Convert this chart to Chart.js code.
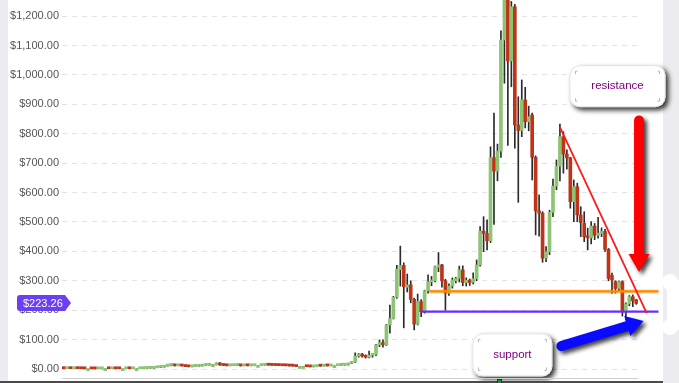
<!DOCTYPE html>
<html>
<head>
<meta charset="utf-8">
<script src="https://cdn.jsdelivr.net/npm/chart.js@4.4.1/dist/chart.umd.min.js"></script>
<style>
  html, body { margin: 0; padding: 0; background: #ececf0; }
  #wrap { width: 679px; height: 383px; }
</style>
</head>
<body>
<div id="wrap"><canvas id="myChart" width="679" height="383"></canvas></div>
<script>
// weekly candles, Aug 2015 -> Sep 2018
const opens = [
  2.8, 1.2, 1.35, 1.2, 1.3, 1.25, 0.9, 0.7, 0.7, 0.6,
  0.55, 0.6, 1.0, 1.0, 0.9, 0.95, 0.9, 0.85, 0.85, 0.9,
  0.85, 0.95, 0.95, 1.2, 2.0, 2.4, 2.5, 4.4, 5.6, 6.3,
  10.0, 12.0, 12.5, 11.0, 11.5, 10.4, 8.5, 7.5, 9.2, 9.4,
  10.0, 12.5, 12.8, 14.0, 14.0, 18.0, 14.0, 12.0, 11.0, 11.4,
  12.5, 12.8, 10.8, 11.5, 11.0, 11.2, 12.0, 12.0, 12.7, 13.3,
  13.0, 12.5, 12.0, 11.9, 11.1, 11.0, 10.2, 9.8, 8.3, 8.3,
  8.3, 7.9, 7.2, 8.1, 10.0, 9.8, 10.6, 10.5, 11.4, 11.4,
  12.8, 13.0, 13.5, 19, 24, 44, 50, 45, 40, 47,
  49, 82, 90, 82, 150, 172, 244, 338, 352, 278,
  286, 237, 153, 229, 195, 266, 296, 300, 346, 354,
  300, 258, 282, 300, 308, 337, 294, 302, 295, 307,
  354, 469, 461, 436, 719, 673, 741, 1119, 1270, 1048,
  1232, 830, 811, 915, 841, 864, 720, 538, 530, 377,
  399, 533, 622, 690, 790, 731, 718, 569, 620, 524,
  495, 452, 446, 486, 455, 461, 468, 407, 318, 297,
  274, 297, 198, 221, 246, 235
];
const highs = [
  3.0, 1.5, 1.4, 1.4, 1.35, 1.3, 0.95, 0.8, 0.75, 0.65,
  0.65, 1.2, 1.15, 1.05, 1.0, 1.0, 0.95, 0.9, 0.95, 0.92,
  1.0, 1.0, 1.3, 2.2, 2.6, 2.8, 4.7, 6.0, 6.8, 11.0,
  13.0, 15.0, 12.8, 12.0, 11.8, 10.6, 8.7, 9.5, 9.8, 10.5,
  13.0, 14.0, 14.5, 15.0, 21.0, 21.5, 14.5, 12.5, 11.8, 13.5,
  14.8, 13.0, 12.0, 11.8, 11.6, 12.3, 12.3, 13.0, 14.0, 13.6,
  13.2, 12.7, 12.2, 12.0, 11.3, 11.2, 10.4, 10.0, 8.8, 8.6,
  8.4, 8.0, 8.3, 10.3, 11.2, 10.9, 10.8, 11.6, 11.6, 13.0,
  13.5, 14, 20, 25, 55, 53, 53, 48, 61, 52,
  84, 99, 99, 152, 217, 247, 353, 418, 361, 323,
  300, 241, 255, 236, 268, 320, 315, 350, 396, 356,
  305, 290, 310, 312, 350, 351, 310, 306, 327, 371,
  484, 518, 507, 756, 870, 765, 1150, 1420, 1350, 1250,
  1240, 926, 983, 958, 894, 870, 725, 592, 535, 416,
  540, 646, 711, 833, 807, 745, 720, 643, 632, 552,
  535, 479, 501, 495, 516, 480, 475, 410, 326, 300,
  300, 300, 225, 250, 252, 237
];
const lows = [
  0.7, 1.1, 1.1, 1.15, 1.1, 0.85, 0.6, 0.65, 0.55, 0.45,
  0.5, 0.6, 0.9, 0.85, 0.85, 0.85, 0.8, 0.8, 0.82, 0.8,
  0.84, 0.9, 0.93, 1.15, 1.9, 2.2, 2.4, 4.2, 4.8, 6.2,
  9.5, 10.5, 10.0, 10.5, 10.0, 8.0, 7.2, 7.3, 8.9, 9.2,
  9.8, 12.0, 12.5, 13.5, 13.8, 12.5, 11.5, 10.5, 10.8, 11.2,
  12.0, 10.0, 10.5, 10.4, 10.8, 11.0, 11.7, 11.8, 12.5, 12.8,
  12.3, 11.8, 11.6, 10.9, 10.5, 9.9, 9.5, 8.0, 8.0, 7.8,
  7.6, 6.9, 7.0, 7.9, 9.5, 9.6, 10.2, 10.3, 10.9, 11.2,
  12.2, 12.5, 13.2, 18, 22, 40, 40, 37, 38, 40,
  45, 76, 74, 80, 122, 170, 240, 282, 140, 262,
  225, 133, 150, 178, 190, 258, 283, 296, 331, 278,
  200, 250, 275, 293, 296, 283, 282, 284, 289, 300,
  350, 399, 405, 430, 492, 640, 720, 972, 760, 960,
  751, 567, 790, 820, 810, 643, 456, 452, 363, 365,
  389, 518, 610, 640, 666, 680, 547, 501, 501, 450,
  433, 405, 425, 440, 445, 450, 400, 300, 257, 258,
  265, 180, 167, 215, 212, 220
];
const closes = [
  1.2, 1.35, 1.2, 1.3, 1.25, 0.9, 0.7, 0.7, 0.6, 0.55,
  0.6, 1.0, 1.0, 0.9, 0.95, 0.9, 0.85, 0.85, 0.9, 0.85,
  0.95, 0.95, 1.2, 2.0, 2.4, 2.5, 4.4, 5.6, 6.3, 10.0,
  12.0, 12.5, 11.0, 11.5, 10.4, 8.5, 7.5, 9.2, 9.4, 10.0,
  12.5, 12.8, 14.0, 14.0, 18.0, 14.0, 12.0, 11.0, 11.4, 12.5,
  12.8, 10.8, 11.5, 11.0, 11.2, 12.0, 12.0, 12.7, 13.3, 13.0,
  12.5, 12.0, 11.9, 11.1, 11.0, 10.2, 9.8, 8.3, 8.3, 8.3,
  7.9, 7.2, 8.1, 10.0, 9.8, 10.6, 10.5, 11.4, 11.4, 12.8,
  13.0, 13.5, 19, 24, 44, 50, 44, 40, 47, 48,
  82, 90, 82, 150, 172, 244, 340, 352, 280, 286,
  237, 153, 229, 195, 266, 297, 301, 348, 354, 300,
  258, 282, 303, 308, 337, 294, 302, 294, 307, 354,
  469, 461, 436, 719, 673, 741, 1119, 1290, 1048, 1232,
  830, 811, 915, 841, 858, 720, 538, 530, 377, 399,
  533, 622, 690, 790, 731, 718, 569, 620, 524, 498,
  450, 446, 486, 455, 461, 468, 407, 308, 303, 274,
  297, 195, 221, 246, 232, 223.26
];

// drawn levels (price) and trend line ends ([week index, price])
const supportLevel = 195;
const resistanceLevel = 264;
const trendStart = [143, 823];
const trendEnd = [168, 190];
const levelFrom = { support: 103, resistance: 105.4 };
const levelTo = 171.4;

// one label per week
const weeks = [];
for (let i = 0; i < closes.length; i++) {
  const d = new Date(Date.UTC(2015, 7, 2 + i * 7));
  weeks.push(d.toISOString().slice(0, 10));
}

const up = "#8cc474";
const down = "#bf3319";
const fontFamily = "'Liberation Sans', Arial, sans-serif";

function roundBox(c, x, y, w, h, r) {
  c.beginPath();
  c.moveTo(x + r, y);
  c.lineTo(x + w - r, y);
  c.arcTo(x + w, y, x + w, y + r, r);
  c.lineTo(x + w, y + h - r);
  c.arcTo(x + w, y + h, x + w - r, y + h, r);
  c.lineTo(x + r, y + h);
  c.arcTo(x, y + h, x, y + h - r, r);
  c.lineTo(x, y + r);
  c.arcTo(x, y, x + r, y, r);
  c.closePath();
}

function note(c, cx, cy, w, h, text) {
  const x = cx - w / 2, y = cy - h / 2;
  c.save();
  c.shadowColor = "rgba(0,0,0,0.8)";
  c.shadowBlur = 5;
  c.shadowOffsetX = 3;
  c.shadowOffsetY = 3;
  c.fillStyle = "#fff";
  roundBox(c, x, y, w, h, 10);
  c.fill();
  c.restore();
  c.save();
  c.strokeStyle = "#e4e4e4";
  c.lineWidth = 1;
  roundBox(c, x + 0.5, y + 0.5, w - 1, h - 1, 10);
  c.stroke();
  // little corner marks
  c.strokeStyle = "#b8b8b8";
  const m = 6;
  [[x + m, y + m, 1, 1], [x + w - m, y + m, -1, 1], [x + m, y + h - m, 1, -1], [x + w - m, y + h - m, -1, -1]].forEach(function (p) {
    c.beginPath();
    c.moveTo(p[0], p[1] + 3 * p[3]);
    c.lineTo(p[0], p[1]);
    c.lineTo(p[0] + 2 * p[2], p[1]);
    c.stroke();
  });
  c.fillStyle = "#800080";
  c.font = "11.5px " + fontFamily;
  c.textAlign = "center";
  c.textBaseline = "middle";
  c.fillText(text, cx, cy);
  c.restore();
}

function arrow(c, x1, y1, x2, y2, w, headW, headL, color) {
  const a = Math.atan2(y2 - y1, x2 - x1);
  const len = Math.hypot(x2 - x1, y2 - y1);
  c.save();
  c.shadowColor = "rgba(0,0,0,0.75)";
  c.shadowBlur = 4;
  c.shadowOffsetX = 3;
  c.shadowOffsetY = 3;
  c.translate(x1, y1);
  c.rotate(a);
  c.fillStyle = color;
  c.beginPath();
  c.moveTo(0, -w / 2);
  c.lineTo(len - headL, -w / 2);
  c.lineTo(len - headL, -headW / 2);
  c.lineTo(len, 0);
  c.lineTo(len - headL, headW / 2);
  c.lineTo(len - headL, w / 2);
  c.lineTo(0, w / 2);
  c.arc(0, 0, w / 2, Math.PI / 2, Math.PI * 1.5);
  c.closePath();
  c.fill();
  c.restore();
}

const decor = {
  id: "decor",
  beforeDraw(chart) {
    const c = chart.ctx;
    c.save();
    c.fillStyle = "#ececf0";
    c.fillRect(0, 0, chart.width, chart.height);
    c.fillStyle = "#fff";
    c.fillRect(8, 0, 655, 381);
    // white blobs at the right edge
    c.beginPath();
    c.arc(670, 282, 8, 0, Math.PI * 2);
    c.arc(670, 327, 8, 0, Math.PI * 2);
    c.fill();
    c.fillRect(667, 280, 12, 50);
    c.restore();
  },
  afterDatasetsDraw(chart) {
    const c = chart.ctx;
    const xs = chart.scales.x, ys = chart.scales.y;
    const area = chart.chartArea;
    c.save();
    // resistance / support levels
    c.lineCap = "butt";
    c.strokeStyle = "rgba(255,140,0,0.35)";
    c.lineWidth = 4;
    let y = ys.getPixelForValue(resistanceLevel);
    c.beginPath();
    c.moveTo(xs.getPixelForValue(levelFrom.resistance), y);
    c.lineTo(xs.getPixelForValue(levelTo), y);
    c.stroke();
    c.strokeStyle = "#ff8a00";
    c.lineWidth = 2.2;
    c.stroke();
    y = ys.getPixelForValue(supportLevel);
    c.strokeStyle = "#6a2cff";
    c.lineWidth = 2.2;
    c.beginPath();
    c.moveTo(xs.getPixelForValue(levelFrom.support), y);
    c.lineTo(xs.getPixelForValue(levelTo), y);
    c.stroke();
    // falling trend line
    c.strokeStyle = "#ff1a1a";
    c.lineWidth = 1.8;
    c.beginPath();
    c.moveTo(xs.getPixelForValue(trendStart[0]), ys.getPixelForValue(trendStart[1]));
    c.lineTo(xs.getPixelForValue(trendEnd[0]), ys.getPixelForValue(trendEnd[1]));
    c.stroke();
    c.restore();

    // arrows
    const rx = xs.getPixelForValue(165.8);
    arrow(c, rx, ys.getPixelForValue(845), rx, ys.getPixelForValue(330), 10, 21, 18, "#ff0000");
    arrow(c, xs.getPixelForValue(143.4), ys.getPixelForValue(78), xs.getPixelForValue(167.1), ys.getPixelForValue(163), 10, 21, 17, "#0a0aff");

    // note boxes
    note(c, xs.getPixelForValue(159.6), ys.getPixelForValue(962), 96, 42, "resistance");
    note(c, xs.getPixelForValue(129.3), ys.getPixelForValue(48), 80, 43, "support");

    // bottom axis line and frame
    c.save();
    c.fillStyle = "#cfcfcf";
    c.fillRect(area.left, area.bottom - 1, area.right - area.left, 1);
    c.fillStyle = "#4a4a4a";
    c.fillRect(0, 381, 663, 2);
    c.fillStyle = "#1f8a45";
    c.fillRect(497, 379, 5, 4);
    c.strokeStyle = "#0d3d1e";
    c.lineWidth = 1;
    c.strokeRect(497.5, 379.5, 4, 4);
    c.restore();
  },
  afterDraw(chart) {
    // last price tag on the axis
    const c = chart.ctx;
    const last = closes[closes.length - 1];
    const y = Math.round(chart.scales.y.getPixelForValue(last));
    c.save();
    c.fillStyle = "#6b3ff2";
    c.beginPath();
    c.moveTo(20, y - 8);
    c.lineTo(65, y - 8);
    c.lineTo(71, y);
    c.lineTo(65, y + 8);
    c.lineTo(20, y + 8);
    c.arcTo(17, y + 8, 17, y + 5, 3);
    c.lineTo(17, y - 5);
    c.arcTo(17, y - 8, 20, y - 8, 3);
    c.closePath();
    c.fill();
    c.fillStyle = "#fff";
    c.font = "11px " + fontFamily;
    c.textAlign = "left";
    c.textBaseline = "middle";
    c.fillText("$" + last.toFixed(2), 23, y + 0.5);
    c.restore();
  },
};

new Chart(document.getElementById("myChart"), {
  type: "bar",
  data: {
    labels: weeks,
    datasets: [
      {
        label: "body",
        data: opens.map(function (o, i) { return [o, closes[i]]; }),
        backgroundColor: opens.map(function (o, i) { return closes[i] >= o ? up : down; }),
        barThickness: 3,
        minBarLength: 2,
        borderWidth: 0,
        grouped: false,
      },
      {
        label: "wick",
        data: lows.map(function (l, i) { return [l, highs[i]]; }),
        backgroundColor: "#2b2b2b",
        barThickness: 1,
        borderWidth: 0,
        grouped: false,
      },
    ],
  },
  options: {
    responsive: false,
    animation: false,
    devicePixelRatio: 1,
    layout: { padding: { left: 0, right: 41, top: 0, bottom: 4 } },
    plugins: {
      legend: { display: false },
      tooltip: { enabled: false },
    },
    scales: {
      x: { display: false, offset: true },
      y: {
        min: -34,
        max: 1255,
        afterFit: function (scale) {
          scale.width = 62;
          scale.paddingTop = 0;
          scale.paddingBottom = 0;
        },
        grid: { color: "#e2e2e8", drawTicks: false },
        border: { display: false, dash: [5, 5] },
        ticks: {
          stepSize: 100,
          includeBounds: false,
          padding: 3,
          color: "#555",
          font: { size: 11, family: fontFamily },
          callback: function (v) {
            return "$" + v.toLocaleString("en-US", { minimumFractionDigits: 2, maximumFractionDigits: 2 });
          },
        },
      },
    },
  },
  plugins: [decor],
});
</script>
</body>
</html>
